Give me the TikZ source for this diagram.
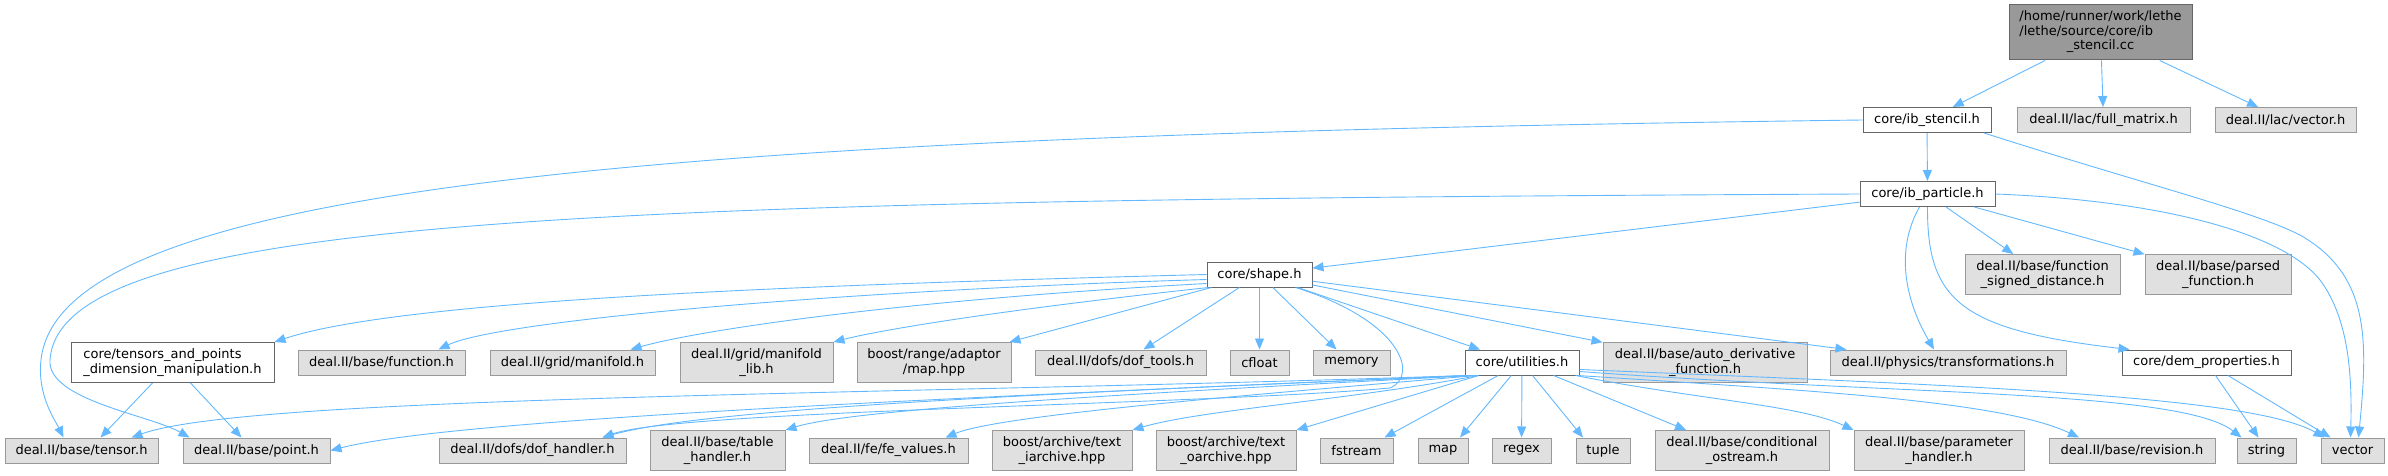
\documentclass[tikz,border=0pt]{standalone}
\usepackage{fontspec}
\setmainfont{DejaVu Sans}
\usetikzlibrary{arrows.meta}

\definecolor{edgeblue}{HTML}{63B8FF}
\definecolor{sysline}{HTML}{999999}
\definecolor{sysfill}{HTML}{E0E0E0}
\definecolor{coreline}{HTML}{666666}
\definecolor{rootfill}{HTML}{999999}

\begin{document}
\begin{tikzpicture}[x=1pt, y=-1pt,
    >={Triangle[length=11pt,width=9pt]},
    filebox/.style={rectangle, inner sep=0pt, minimum height=25pt, line width=1pt,
        font=\fontsize{13}{14.5}\selectfont, align=center},
    sysfile/.style={filebox, draw=sysline, fill=sysfill},
    corefile/.style={filebox, draw=coreline, fill=white},
    rootfile/.style={filebox, draw=coreline, fill=rootfill},
    twoline/.style={minimum height=40pt},
    incl/.style={->, draw=edgeblue, line width=0.9pt}]
    \useasboundingbox (0,0) rectangle (2388,476);
                % source file and its direct includes
                \node[rootfile, minimum width=183pt, minimum height=55pt] (stencilcc) at (2100.5,32.5) {\begin{tabular}{@{}l@{}}/home/runner/work/lethe\\/lethe/source/core/ib\\\multicolumn{1}{@{}c@{}}{\_stencil.cc}\end{tabular}};
                \node[corefile, minimum width=128pt] (stencil) at (1927,120) {core/ib\_stencil.h};
                \node[sysfile, minimum width=173pt] (fullmatrix) at (2103.5,120) {deal.II/lac/full\_matrix.h};
                \node[sysfile, minimum width=141pt] (lacvector) at (2285.5,120) {deal.II/lac/vector.h};
                \node[corefile, minimum width=135pt] (particle) at (1927.5,194) {core/ib\_particle.h};
                
                % third level
                \node[sysfile, twoline, minimum width=155pt] (signeddist) at (2042.5,274.5) {deal.II/base/function\\\_signed\_distance.h};
                \node[sysfile, twoline, minimum width=146pt] (parsedfn) at (2218,274.5) {deal.II/base/parsed\\\_function.h};
                \node[corefile, minimum width=105pt] (shape) at (1259.5,274.5) {core/shape.h};
                
                % fourth level
                \node[corefile, twoline, minimum width=203pt, align=left] (tensors) at (172.5,362.5) {core/tensors\_and\_points\\\_dimension\_manipulation.h};
                \node[sysfile, minimum width=167pt] (function) at (381.5,362.5) {deal.II/base/function.h};
                \node[sysfile, minimum width=165pt] (manifold) at (572.5,362.5) {deal.II/grid/manifold.h};
                \node[sysfile, twoline, minimum width=153pt] (manifoldlib) at (756.5,362.5) {deal.II/grid/manifold\\\_lib.h};
                \node[sysfile, twoline, minimum width=154pt] (rangemap) at (934,362.5) {boost/range/adaptor\\/map.hpp};
                \node[sysfile, minimum width=171pt] (doftools) at (1120.5,362.5) {deal.II/dofs/dof\_tools.h};
                \node[sysfile, minimum width=59pt] (cfloat) at (1259.5,362.5) {cfloat};
                \node[sysfile, minimum width=77pt] (memory) at (1351.5,362.5) {memory};
                \node[corefile, minimum width=114pt] (utilities) at (1522,362.5) {core/utilities.h};
                \node[sysfile, twoline, minimum width=204pt] (autoderiv) at (1705,362.5) {deal.II/base/auto\_derivative\\\_function.h};
                \node[sysfile, minimum width=236pt] (transform) at (1948,362.5) {deal.II/physics/transformations.h};
                \node[corefile, minimum width=169pt] (demprops) at (2206.5,362.5) {core/dem\_properties.h};
                
                % bottom level
                \node[sysfile, minimum width=153pt] (tensor) at (81.5,450.5) {deal.II/base/tensor.h};
                \node[sysfile, minimum width=147pt] (point) at (256.5,450.5) {deal.II/base/point.h};
                \node[sysfile, minimum width=187pt] (dofhandler) at (532.5,450.5) {deal.II/dofs/dof\_handler.h};
                \node[sysfile, twoline, minimum width=135pt] (tablehandler) at (717.5,450.5) {deal.II/base/table\\\_handler.h};
                \node[sysfile, minimum width=159pt] (fevalues) at (888.5,450.5) {deal.II/fe/fe\_values.h};
                \node[sysfile, twoline, minimum width=140pt] (iarchive) at (1062,450.5) {boost/archive/text\\\_iarchive.hpp};
                \node[sysfile, twoline, minimum width=140pt] (oarchive) at (1226,450.5) {boost/archive/text\\\_oarchive.hpp};
                \node[sysfile, minimum width=73pt] (fstream) at (1356.5,450.5) {fstream};
                \node[sysfile, minimum width=50pt] (stdmap) at (1443,450.5) {map};
                \node[sysfile, minimum width=59pt] (regex) at (1521.5,450.5) {regex};
                \node[sysfile, minimum width=54pt] (tuple) at (1603,450.5) {tuple};
                \node[sysfile, twoline, minimum width=174pt] (condostream) at (1742,450.5) {deal.II/base/conditional\\\_ostream.h};
                \node[sysfile, twoline, minimum width=170pt] (paramhandler) at (1939,450.5) {deal.II/base/parameter\\\_handler.h};
                \node[sysfile, minimum width=166pt] (revision) at (2132,450.5) {deal.II/base/revision.h};
                \node[sysfile, minimum width=59pt] (string) at (2266.5,450.5) {string};
                \node[sysfile, minimum width=63pt] (vector) at (2352.5,450.5) {vector};
                
                % includes of ib_stencil.cc and ib_stencil.h
                \draw[incl] (stencilcc) -- (stencil);
                \draw[incl] (stencilcc) -- (fullmatrix);
                \draw[incl] (stencilcc) -- (lacvector);
                \draw[incl] (stencil) -- (particle);
                \draw[incl] (stencil.west) .. controls (700,135) and (60,180) .. (41,360) .. controls (37,395) and (55,420) .. ([xshift=-18pt]tensor.north);
                \draw[incl] ([xshift=57pt]stencil.south) .. controls (2150,186) and (2250,210) .. (2300,235) .. controls (2370,275) and (2368,340) .. ([xshift=6pt]vector.north);
                
                % includes of ib_particle.h
                \draw[incl] (particle) -- (shape);
                \draw[incl] (particle.west) .. controls (600,200) and (60,215) .. (50,360) .. controls (47,400) and (150,415) .. ([xshift=-67pt]point.north);
                \draw[incl] (particle) -- (signeddist);
                \draw[incl] (particle) -- (parsedfn);
                \draw[incl] ([xshift=-8pt]particle.south) .. controls (1895,250) and (1905,300) .. ([xshift=-14pt]transform.north);
                \draw[incl] (particle.south) .. controls (1927,300) and (1960,330) .. ([xshift=-77pt]demprops.north);
                \draw[incl] (particle.east) .. controls (2150,200) and (2280,230) .. (2320,280) .. controls (2350,320) and (2352,380) .. ([xshift=-2pt]vector.north);
                
                % includes of shape.h
                \draw[incl] (shape.west) .. controls (800,285) and (400,300) .. (tensors.north east);
                \draw[incl] ([yshift=-5pt]shape.west) .. controls (850,290) and (500,320) .. ([xshift=57pt]function.north);
                \draw[incl] ([yshift=-9pt]shape.west) .. controls (900,300) and (700,330) .. ([xshift=58pt]manifold.north);
                \draw[incl] ([xshift=2pt]shape.south west) .. controls (1000,310) and (880,330) .. (manifoldlib.north east);
                \draw[incl] (shape) -- ([xshift=-2pt]rangemap.north east);
                \draw[incl] (shape) -- ([xshift=23pt]doftools.north);
                \draw[incl] (shape) -- (cfloat);
                \draw[incl] (shape) -- ([xshift=-15pt]memory.north);
                \draw[incl] (shape) -- ([xshift=-42pt]utilities.north);
                \draw[incl] (shape) -- (autoderiv);
                \draw[incl] (shape) -- (transform);
                \draw[incl] ([xshift=36pt]shape.south) .. controls (1400,320) and (1420,375) .. (1390,388) .. controls (1200,405) and (680,410) .. ([xshift=70pt]dofhandler.north);
                
                % includes of tensors_and_points, utilities.h and dem_properties.h
                \draw[incl] ([xshift=-20pt]tensors.south) -- ([xshift=19pt]tensor.north);
                \draw[incl] ([xshift=18pt]tensors.south) -- ([xshift=-15pt]point.north);
                \draw[incl] ([xshift=1pt]utilities.south west) .. controls (900,395) and (250,395) .. ([xshift=50pt]tensor.north);
                \draw[incl] ([xshift=4pt]utilities.south west) .. controls (900,400) and (450,420) .. (point.east);
                \draw[incl] ([xshift=7pt]utilities.south west) .. controls (1000,395) and (700,410) .. ([xshift=70pt]dofhandler.north);
                \draw[incl] ([xshift=10pt]utilities.south west) .. controls (1100,395) and (850,410) .. (tablehandler.north east);
                \draw[incl] ([xshift=12pt]utilities.south west) .. controls (1250,395) and (1000,415) .. ([xshift=57pt]fevalues.north);
                \draw[incl] ([xshift=14pt]utilities.south west) .. controls (1350,400) and (1200,410) .. (iarchive.north east);
                \draw[incl] (utilities) -- (oarchive.north east);
                \draw[incl] (utilities) -- ([xshift=28pt]fstream.north);
                \draw[incl] (utilities) -- ([xshift=17pt]stdmap.north);
                \draw[incl] (utilities) -- (regex);
                \draw[incl] (utilities) -- ([xshift=-20pt]tuple.north);
                \draw[incl] (utilities) -- ([xshift=-56pt]condostream.north);
                \draw[incl] ([xshift=-4pt]utilities.south east) .. controls (1700,400) and (1800,405) .. (paramhandler.north west);
                \draw[incl] ([xshift=-2pt]utilities.south east) .. controls (1800,390) and (2000,400) .. ([xshift=-53pt]revision.north);
                \draw[incl] ([yshift=4pt]utilities.south east) .. controls (1900,395) and (2180,390) .. ([xshift=-25pt]string.north);
                \draw[incl] ([yshift=6pt]utilities.south east) .. controls (1950,385) and (2250,395) .. ([xshift=-28pt]vector.north);
                \draw[incl] (demprops) -- ([xshift=-8pt]string.north);
                \draw[incl] (demprops) -- ([xshift=-22pt]vector.north);
\end{tikzpicture}
\end{document}
